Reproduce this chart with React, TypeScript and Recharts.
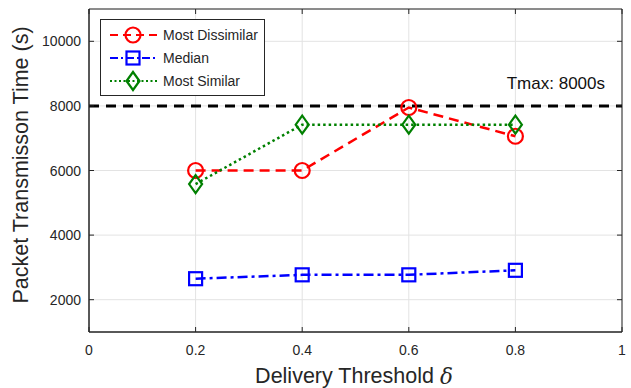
import React from 'react';
import { LineChart, Line, XAxis, YAxis, CartesianGrid, ReferenceLine, ReferenceArea, Label } from 'recharts';

const thresholds = [0.2, 0.4, 0.6, 0.8];
const mostDissimilar = [6000, 6000, 7950, 7060];
const median = [2650, 2770, 2770, 2910];
const mostSimilar = [5580, 7420, 7420, 7420];

const xTicks = [0, 0.2, 0.4, 0.6, 0.8, 1];
const yTicks = [2000, 4000, 6000, 8000, 10000];
const tmax = 8000;

const data = thresholds.map((t, i) => ({
  x: t,
  dissimilar: mostDissimilar[i],
  median: median[i],
  similar: mostSimilar[i],
}));

const W = 631;
const H = 388;
const LEFT = 89;
const RIGHT = 622;
const TOP = 9;
const BOTTOM = 332;
const FONT = '"Liberation Sans", Arial, Helvetica, sans-serif';
const AXIS = '#262626';

const CircleDot = (p: any) => (
  <circle cx={p.cx} cy={p.cy} r={7.5} fill="none" stroke="#ff0000" strokeWidth={2.2} />
);
const SquareDot = (p: any) => (
  <rect x={p.cx - 6.5} y={p.cy - 6.5} width={13} height={13} fill="none" stroke="#0000ff" strokeWidth={2.2} />
);
const DiamondDot = (p: any) => (
  <polygon
    points={`${p.cx},${p.cy - 9} ${p.cx + 6.5},${p.cy} ${p.cx},${p.cy + 9} ${p.cx - 6.5},${p.cy}`}
    fill="none"
    stroke="#008000"
    strokeWidth={2.2}
  />
);

const YTick = (p: any) => (
  <g>
    <line x1={LEFT} x2={LEFT + 5} y1={p.y} y2={p.y} stroke={AXIS} />
    <line x1={RIGHT - 5} x2={RIGHT} y1={p.y} y2={p.y} stroke={AXIS} />
    <text x={81} y={p.y} textAnchor="end" dominantBaseline="central" fill={AXIS} fontSize={14} fontFamily={FONT}>
      {p.payload.value}
    </text>
  </g>
);

const XTick = (p: any) => (
  <g>
    <line x1={p.x} x2={p.x} y1={BOTTOM - 5} y2={BOTTOM} stroke={AXIS} />
    <line x1={p.x} x2={p.x} y1={TOP} y2={TOP + 5} stroke={AXIS} />
    <text x={p.x} y={350} textAnchor="middle" dominantBaseline="central" fill={AXIS} fontSize={14} fontFamily={FONT}>
      {String(p.payload.value)}
    </text>
  </g>
);

const legendItems = [
  { name: 'Most Dissimilar', color: '#ff0000', dash: '8 5', marker: 'circle' },
  { name: 'Median', color: '#0000ff', dash: '8 3 2 3', marker: 'square' },
  { name: 'Most Similar', color: '#008000', dash: '2 2.5', marker: 'diamond' },
];

const LegendBox = () => (
  <svg width={165} height={77} style={{ display: 'block' }}>
    <rect x={0.5} y={0.5} width={164} height={76} fill="#fff" stroke={AXIS} />
    {legendItems.map((it, i) => {
      const cy = 16 + i * 23;
      const cx = 33;
      return (
        <g key={it.name}>
          <line x1={10} x2={57} y1={cy} y2={cy} stroke={it.color} strokeWidth={2.2} strokeDasharray={it.dash} />
          {it.marker === 'circle' && <circle cx={cx} cy={cy} r={7.5} fill="none" stroke={it.color} strokeWidth={2.2} />}
          {it.marker === 'square' && (
            <rect x={cx - 6.5} y={cy - 6.5} width={13} height={13} fill="none" stroke={it.color} strokeWidth={2.2} />
          )}
          {it.marker === 'diamond' && (
            <polygon
              points={`${cx},${cy - 9} ${cx + 6.5},${cy} ${cx},${cy + 9} ${cx - 6.5},${cy}`}
              fill="none"
              stroke={it.color}
              strokeWidth={2.2}
            />
          )}
          <text x={63} y={cy} dominantBaseline="central" fontSize={14} fontFamily={FONT} fill={AXIS}>
            {it.name}
          </text>
        </g>
      );
    })}
  </svg>
);

export default function App() {
  return (
    <div style={{ position: 'absolute', left: 0, top: 0, width: W, height: H, background: '#fff' }}>
      <LineChart width={W} height={H} data={data} margin={{ top: TOP, right: W - RIGHT, bottom: 0, left: 0 }}>
        <CartesianGrid stroke="#e3e3e3" strokeWidth={1} />
        <XAxis
          dataKey="x"
          type="number"
          domain={[0, 1]}
          ticks={xTicks}
          height={H - BOTTOM}
          tick={<XTick />}
          tickLine={false}
          axisLine={{ stroke: AXIS }}
          interval={0}
        >
          <Label
            content={() => (
              <text x={354} y={376} textAnchor="middle" dominantBaseline="central" fontSize={21.5} fontFamily={FONT} fill={AXIS}>
                Delivery Threshold <tspan fontStyle="italic" fontFamily='"DejaVu Serif", serif'>δ</tspan>
              </text>
            )}
          />
        </XAxis>
        <YAxis
          type="number"
          domain={[1000, 11000]}
          ticks={yTicks}
          width={LEFT}
          tick={<YTick />}
          tickLine={false}
          axisLine={{ stroke: AXIS }}
          interval={0}
        >
          <Label
            content={() => (
              <text
                x={21}
                y={165}
                transform="rotate(-90 21 165)"
                textAnchor="middle"
                dominantBaseline="central"
                fontSize={21.5}
                fontFamily={FONT}
                fill={AXIS}
              >
                Packet Transmisson Time (s)
              </text>
            )}
          />
        </YAxis>
        <ReferenceArea x1={0} x2={1} y1={1000} y2={11000} fill="none" stroke={AXIS} strokeWidth={1} ifOverflow="visible" />
        <Line
          dataKey="dissimilar"
          stroke="#ff0000"
          strokeWidth={2.5}
          strokeDasharray="10 6"
          dot={<CircleDot />}
          isAnimationActive={false}
        />
        <Line
          dataKey="median"
          stroke="#0000ff"
          strokeWidth={2.5}
          strokeDasharray="10 4 3 4"
          dot={<SquareDot />}
          isAnimationActive={false}
        />
        <Line
          dataKey="similar"
          stroke="#008000"
          strokeWidth={2.5}
          strokeDasharray="2.5 3"
          dot={<DiamondDot />}
          isAnimationActive={false}
        />
        <ReferenceLine y={tmax} stroke="#000" strokeWidth={3} strokeDasharray="10 7" ifOverflow="visible">
          <Label
            position="insideBottomRight"
            offset={17}
            value="Tmax: 8000s"
            fontSize={17}
            fontFamily={FONT}
            fill="#111"
          />
        </ReferenceLine>
      </LineChart>
      <div style={{ position: 'absolute', left: 100, top: 19 }}>
        <LegendBox />
      </div>
    </div>
  );
}
